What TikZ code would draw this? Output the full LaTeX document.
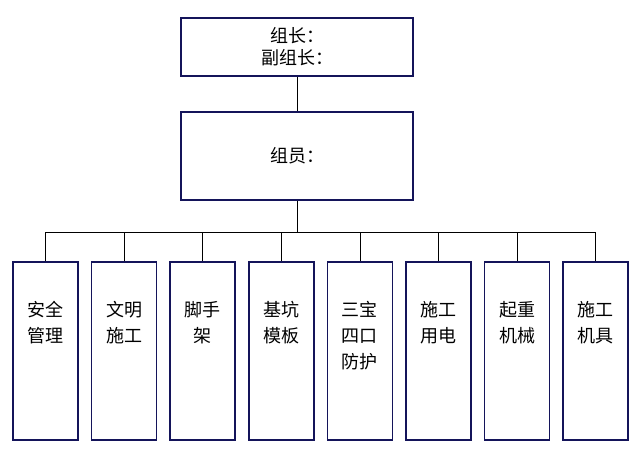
\documentclass[tikz,border=0pt]{standalone}
\usepackage{fontspec}
\newfontfamily\cjk{Noto Sans CJK SC}
\usetikzlibrary{positioning}
\definecolor{boxline}{RGB}{20,20,90}
\begin{document}
\begin{tikzpicture}[x=1pt,y=-1pt,
  box/.style={draw=boxline, line width=1.6pt, align=center, font=\cjk\fontsize{18}{22}\selectfont, inner sep=0pt},
  txt/.style={align=center, font=\cjk\fontsize{18}{26}\selectfont, inner sep=0pt},
  link/.style={draw=black, line width=0.6pt}]
\useasboundingbox (0,0) rectangle (640,464);
\node (leader) [box, minimum width=232pt, minimum height=58pt] at (297,47) {组长：\\副组长：};
\node (members) [box, minimum width=232pt, minimum height=88pt] at (297,156) {组员：};
\draw [link] (leader) -- (members);
\coordinate (bus) at (297,232);
\draw [link] (members) -- (bus);
\draw [link] (45.5,232) -- (595.5,232);
\foreach \i/\lbl in {0/安全\\管理, 1/文明\\施工, 2/脚手\\架, 3/基坑\\模板, 4/三宝\\四口\\防护, 5/施工\\用电, 6/起重\\机械, 7/施工\\机具}{
  \node (team\i) [box, minimum width=65pt, minimum height=178pt] at (45.5+78.6*\i,351) {};
  \node (lbl\i) [txt, anchor=north] at (45.5+78.6*\i,301) {\lbl};
  \draw [link] (45.5+78.6*\i,232) -- (team\i.north);
}
\end{tikzpicture}
\end{document}
